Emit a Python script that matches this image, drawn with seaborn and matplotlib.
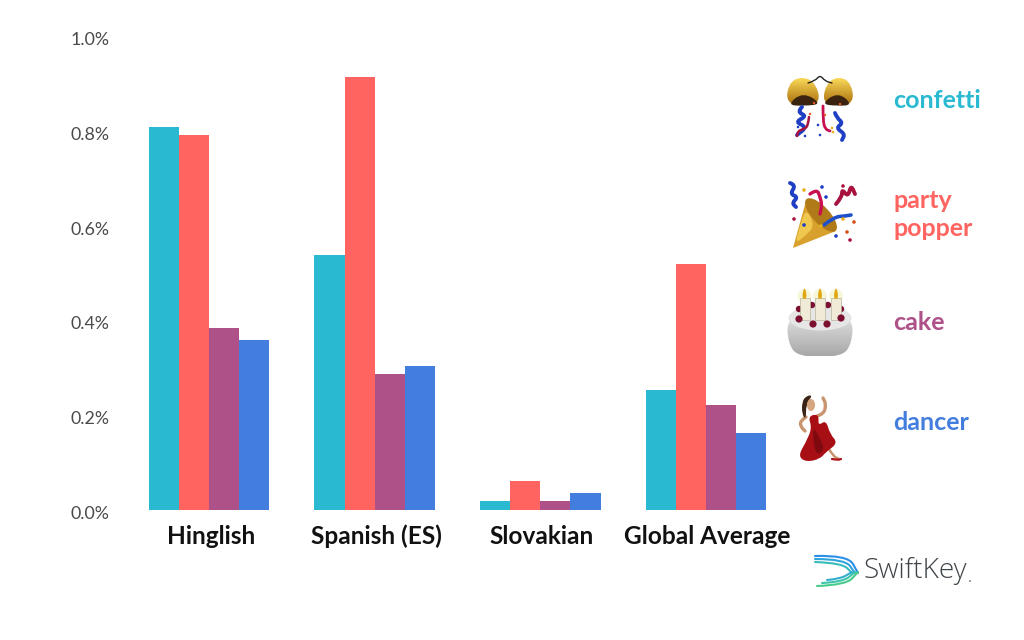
import numpy as np
import pandas as pd
import matplotlib
matplotlib.use('Agg')
import matplotlib.pyplot as plt
import matplotlib.transforms as mtrans
import seaborn as sns
from matplotlib.path import Path
from matplotlib.patches import PathPatch, Ellipse, Circle, Rectangle

languages = ['Hinglish', 'Spanish (ES)', 'Slovakian', 'Global Average']
emoji_names = ['confetti', 'party popper', 'cake', 'dancer']
confetti = [0.808, 0.538, 0.019, 0.253]
party_popper = [0.791, 0.914, 0.061, 0.519]
cake = [0.384, 0.287, 0.019, 0.222]
dancer = [0.359, 0.304, 0.036, 0.162]
y_ticks = [0.0, 0.2, 0.4, 0.6, 0.8, 1.0]
colors = ['#29B9D0', '#FF6460', '#AD5188', '#437EDF']

sns.set_theme(style='white')
plt.rcParams['font.family'] = ['Lato', 'DejaVu Sans']

W, H = 1024, 640
fig = plt.figure(figsize=(W / 100, H / 100), dpi=100, facecolor='white')

# chart area placed in pixels
ax = fig.add_axes([126.4 / W, 1 - 510 / H, 662.3 / W, 474 / H])

df = pd.DataFrame({
    'language': languages * 4,
    'emoji': [n for n in emoji_names for _ in languages],
    'value': confetti + party_popper + cake + dancer,
})
sns.barplot(data=df, x='language', y='value', hue='emoji', palette=colors,
            width=0.728, gap=0, saturation=1, legend=False, linewidth=0, ax=ax)
ax.set_ylim(0, 1)
ax.set_xlim(-0.5, 3.5)
ax.set_xlabel('')
ax.set_ylabel('')
ax.set_yticks(y_ticks)
ax.set_yticklabels(['%.1f%%' % t for t in y_ticks], fontsize=12.8, color='#4a4a4a')
ax.tick_params(axis='y', length=0, pad=12.5)
ax.tick_params(axis='x', length=0, pad=24.5)
shift = mtrans.ScaledTranslation(0, -2.5 / 100, fig.dpi_scale_trans)
for lab in ax.get_yticklabels():
    lab.set_transform(lab.get_transform() + shift)
shift_x = mtrans.ScaledTranslation(1.5 / 100, 0, fig.dpi_scale_trans)
for lab in ax.get_xticklabels():
    lab.set_fontsize(17.6)
    lab.set_fontweight('bold')
    lab.set_color('#111111')
    lab.set_va('baseline')
    lab.set_transform(lab.get_transform() + shift_x)
sns.despine(ax=ax, left=True, bottom=True)
ax.set_facecolor('none')

# overlay in pixel coordinates for the emoji column and logo
ov = fig.add_axes([0, 0, 1, 1], zorder=5)
ov.set_xlim(0, W)
ov.set_ylim(H, 0)
ov.axis('off')
ov.patch.set_alpha(0)


def curve_path(pts):
    pts = np.array(pts, dtype=float)
    verts = [pts[0]]
    codes = [Path.MOVETO]
    for i in range(1, len(pts) - 1):
        verts += [pts[i], (pts[i] + pts[i + 1]) / 2]
        codes += [Path.CURVE3, Path.CURVE3]
    verts.append(pts[-1])
    codes.append(Path.LINETO)
    return Path(verts, codes)


def streamer(pts, color, lw=2.2, z=7):
    ov.add_patch(PathPatch(curve_path(pts), fill=False, ec=color, lw=lw,
                           capstyle='round', joinstyle='round', zorder=z))


def blob_path(pts):
    # closed smooth outline through the midpoints of pts
    pts = np.array(pts, dtype=float)
    start = (pts[-1] + pts[0]) / 2
    verts = [start]
    codes = [Path.MOVETO]
    for i in range(len(pts)):
        verts += [pts[i], (pts[i] + pts[(i + 1) % len(pts)]) / 2]
        codes += [Path.CURVE3, Path.CURVE3]
    return Path(verts, codes)


def blob(pts, color, z=4):
    ov.add_patch(PathPatch(blob_path(pts), fc=color, ec='none', zorder=z))


def dots(pts, color, r=1.5, z=8):
    for x, y in pts:
        ov.add_patch(Circle((x, y), r, fc=color, ec='none', zorder=z))


def gradient(pts, c1, c2, extent, horizontal=False):
    # fill an outline with a two colour gradient
    patch = PathPatch(blob_path(pts), fc='none', ec='none')
    ov.add_patch(patch)
    t = np.linspace(0, 1, 64)
    g = t[None, :] if horizontal else t[:, None]
    cmap = matplotlib.colors.LinearSegmentedColormap.from_list('g', [c1, c2])
    im = ov.imshow(g, extent=extent, cmap=cmap, aspect='auto', zorder=2)
    im.set_clip_path(patch)
    ov.set_xlim(0, W)
    ov.set_ylim(H, 0)


BLUE = '#1F3FC4'
CRIM = '#A8123F'

# confetti ball
streamer([(808, 83), (815, 81), (820, 75), (825, 81), (832, 83)], '#222222', 1.0)
gradient([(785, 106), (790, 78), (814, 78), (822, 106)], '#F9D858', '#A86E0C', (784, 824, 105, 78))
gradient([(855, 106), (850, 78), (828, 78), (821, 106)], '#F9D858', '#A86E0C', (818, 856, 105, 78))
blob([(787, 105), (803, 92), (822, 104), (804, 106)], '#3A2410', 3)
blob([(853, 105), (838, 92), (821, 104), (837, 106)], '#3A2410', 3)
streamer([(802, 107), (797, 112), (807, 116), (795, 122), (807, 127), (797, 135)], BLUE, 2.8)
streamer([(835, 113), (837, 118), (843, 123), (836, 128), (845, 134), (842, 140)], BLUE, 2.8)
streamer([(809, 117), (808, 126), (804, 129), (798, 131), (797, 136)], CRIM, 1.8)
streamer([(823, 106), (823, 120), (825, 129), (830, 131)], '#C8104F', 2.0)
dots([(814, 103), (810, 114), (825, 115), (840, 104)], '#E05A20', 1.2)
dots([(818, 125), (820, 135), (805, 136), (798, 127)], '#1F3FC4', 1.3)
dots([(832, 128), (833, 132)], '#E8B020', 1.3)

# party popper
ov.add_patch(PathPatch(Path([(793, 248), (806, 201), (836, 231), (793, 248)],
                            [Path.MOVETO, Path.LINETO, Path.LINETO, Path.CLOSEPOLY]),
                       fc='#D8A02C', ec='none', zorder=3))
ov.add_patch(Ellipse((821, 215), 17, 43, angle=-43, fc='#B07A18', ec='none', zorder=4))
blob([(806, 208), (800, 226), (795, 244), (805, 236), (815, 226)], '#F0C850', 5)
streamer([(790, 183), (796, 185), (790, 194), (798, 197), (792, 203), (796, 207)], BLUE, 2.8)
streamer([(810, 194), (817, 189), (820, 197), (822, 205), (820, 214)], '#C8104F', 2.4)
streamer([(836, 204), (842, 197), (842, 189), (848, 197), (851, 185), (855, 194)], CRIM, 2.8)
streamer([(824, 225), (834, 217), (845, 216), (851, 215)], '#1F50C8', 2.6)
dots([(804, 190), (843, 219), (821, 226)], '#E8B020', 1.8)
dots([(822, 187), (826, 197), (804, 225), (836, 236)], '#1F3FC4', 1.8)
dots([(843, 186), (794, 219), (850, 240)], CRIM, 1.8)
dots([(854, 222), (847, 232)], '#D8501C', 1.8)

# cake
gradient([(787, 318), (788, 343), (798, 357), (842, 357), (852, 343), (853, 318), (820, 300)],
         '#F0F0F0', '#A8A8A8', (786, 854, 356, 305))
ov.add_patch(Ellipse((820, 318), 63, 25, fc='#E6E6E6', ec='none', zorder=3))
dots([(812, 305), (828, 305), (799, 309), (841, 309)], '#7C1030', 3.2, 3.5)
for cx in [804.5, 820, 836]:
    ov.add_patch(Circle((cx, 296), 7, fc='#F2F0C0', ec='none', alpha=0.6, zorder=3))
    ov.add_patch(Rectangle((cx - 5, 298), 10, 22, fc='#EFEBD6', ec='#B8B49C', lw=0.5, zorder=4))
    blob([(cx - 3, 299), (cx, 285), (cx + 3, 299)], '#E0A810', 5)
dots([(799, 319), (813, 324), (827, 324), (841, 318)], '#7C1030', 3.6)

# dancer
streamer([(806, 417), (800, 421), (801, 427), (805, 431)], '#C9946E', 2.4, 3)
streamer([(817, 416), (824, 414), (826, 404), (823, 398)], '#C9946E', 2.4, 3)
streamer([(829, 449), (833, 456), (839, 459)], '#C9946E', 1.8, 3)
blob([(806, 396), (813, 395), (806, 404), (806, 420), (802, 414), (802, 402)], '#3A2418', 5)
ov.add_patch(Ellipse((811, 405), 8, 12, fc='#D6A680', ec='none', zorder=6))
blob([(808, 416), (819, 414), (818, 426), (826, 420), (830, 434), (838, 443), (826, 452),
      (820, 459), (806, 462), (798, 456), (806, 442), (812, 428)], '#A80F14', 4)
blob([(812, 425), (820, 438), (825, 450), (815, 456)], '#7E0A10', 5)
streamer([(832, 459), (838, 460), (841, 459)], '#B01018', 1.6, 5)

# emoji names
label_y = {0: [101], 1: [200, 228], 2: [322], 3: [422]}
label_txt = [['confetti'], ['party', 'popper'], ['cake'], ['dancer']]
for i in range(4):
    for y, txt in zip(label_y[i], label_txt[i]):
        ov.text(893.5, y, txt, color=colors[i], fontsize=18, fontweight='bold',
                va='center', ha='left')

# SwiftKey logo
upper = [(556, '#2C8FE8'), (559, '#30A4DC'), (562, '#38BCBC')]
lower = [(586, '#48CC8C'), (583, '#3CC4A8'), (580, '#34ACD0')]
for k, (y0, col) in enumerate(upper):
    streamer([(815, y0), (848 - 3 * k, y0 - 1 + k), (858 - 3 * k, 573)], col, 1.5, 7)
for k, (y0, col) in enumerate(lower):
    streamer([(817 + 5 * k, y0), (846 - 3 * k, y0 - 1), (858 - 3 * k, 572)], col, 1.5, 7)
ov.text(863.5, 571, 'SwiftKey', fontsize=20.2, color='#3f4448', family='Open Sans',
        fontweight='light', va='center', ha='left')
dots([(970, 581)], '#8a8a8a', 1.0)

fig.savefig('out.png', dpi=100, facecolor='white')
